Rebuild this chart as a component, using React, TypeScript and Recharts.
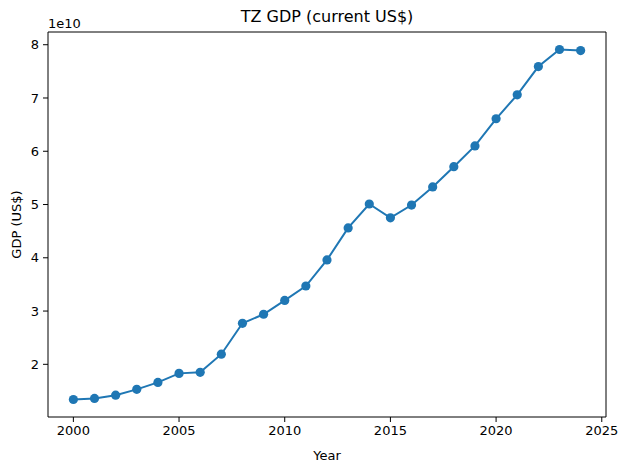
import React from "react";
import { LineChart, Line, XAxis, YAxis, Label, ReferenceLine } from "recharts";

const years = [2000, 2001, 2002, 2003, 2004, 2005, 2006, 2007, 2008, 2009, 2010, 2011, 2012, 2013, 2014, 2015, 2016, 2017, 2018, 2019, 2020, 2021, 2022, 2023, 2024];
const gdp = [1.34e10, 1.36e10, 1.42e10, 1.53e10, 1.66e10, 1.83e10, 1.85e10, 2.19e10, 2.77e10, 2.94e10, 3.2e10, 3.47e10, 3.96e10, 4.56e10, 5.01e10, 4.75e10, 4.99e10, 5.33e10, 5.71e10, 6.1e10, 6.61e10, 7.06e10, 7.59e10, 7.91e10, 7.89e10];
const xTicks = [2000, 2005, 2010, 2015, 2020, 2025];
const yTicks = [2e10, 3e10, 4e10, 5e10, 6e10, 7e10, 8e10];
const title = "TZ GDP (current US$)";
const xLabel = "Year";
const yLabel = "GDP (US$)";
const offsetText = "1e10";

const X_DOMAIN: [number, number] = [1998.8, 2025.2];
const Y_DOMAIN: [number, number] = [1.011e10, 8.239e10];

const data = years.map((y, i) => ({ year: y, gdp: gdp[i] }));

const FONT = "'DejaVu Sans', sans-serif";
const BLUE = "#1f77b4";

export default function App() {
  return (
    <div style={{ position: "absolute", left: 0, top: 0, background: "#fff" }}>
      <LineChart width={629} height={470} data={data} margin={{ top: 32, right: 23, bottom: 0, left: 0 }}>
        <XAxis
          dataKey="year"
          type="number"
          domain={X_DOMAIN}
          ticks={xTicks}
          allowDataOverflow
          height={53}
          tickSize={5}
          tickMargin={4}
          stroke="#000"
          tickLine={{ stroke: "#000" }}
          axisLine={{ stroke: "#000" }}
          tick={{ fill: "#000", fontSize: 13, fontFamily: FONT }}
        >
          <Label value={xLabel} position="insideBottom" offset={10} style={{ fill: "#000", fontSize: 13, fontFamily: FONT }} />
        </XAxis>
        <YAxis
          dataKey="gdp"
          type="number"
          domain={Y_DOMAIN}
          ticks={yTicks}
          allowDataOverflow
          width={48}
          tickSize={5}
          tickMargin={4}
          stroke="#000"
          tickLine={{ stroke: "#000" }}
          axisLine={{ stroke: "#000" }}
          tickFormatter={(v: number) => String(Math.round(v / 1e10))}
          tick={{ fill: "#000", fontSize: 13, fontFamily: FONT }}
        >
          <Label
            value={yLabel}
            angle={-90}
            position="insideLeft"
            offset={16}
            style={{ textAnchor: "middle", fill: "#000", fontSize: 13, fontFamily: FONT }}
          />
        </YAxis>
        <ReferenceLine y={Y_DOMAIN[1]} stroke="#000" strokeWidth={1} ifOverflow="visible">
          <Label
            content={({ viewBox }: any) => {
              const vb = viewBox || { x: 48, y: 32, width: 558 };
              return (
                <g>
                  <text x={vb.x + vb.width / 2} y={vb.y - 10} textAnchor="middle" fontSize={16} fontFamily={FONT} fill="#000">
                    {title}
                  </text>
                  <text x={vb.x} y={vb.y - 4} textAnchor="start" fontSize={13} fontFamily={FONT} fill="#000">
                    {offsetText}
                  </text>
                </g>
              );
            }}
          />
        </ReferenceLine>
        <ReferenceLine x={X_DOMAIN[1]} stroke="#000" strokeWidth={1} ifOverflow="visible" />
        <Line
          dataKey="gdp"
          stroke={BLUE}
          strokeWidth={2}
          dot={{ r: 4.6, fill: BLUE, stroke: BLUE, strokeWidth: 0 }}
          isAnimationActive={false}
        />
      </LineChart>
    </div>
  );
}
